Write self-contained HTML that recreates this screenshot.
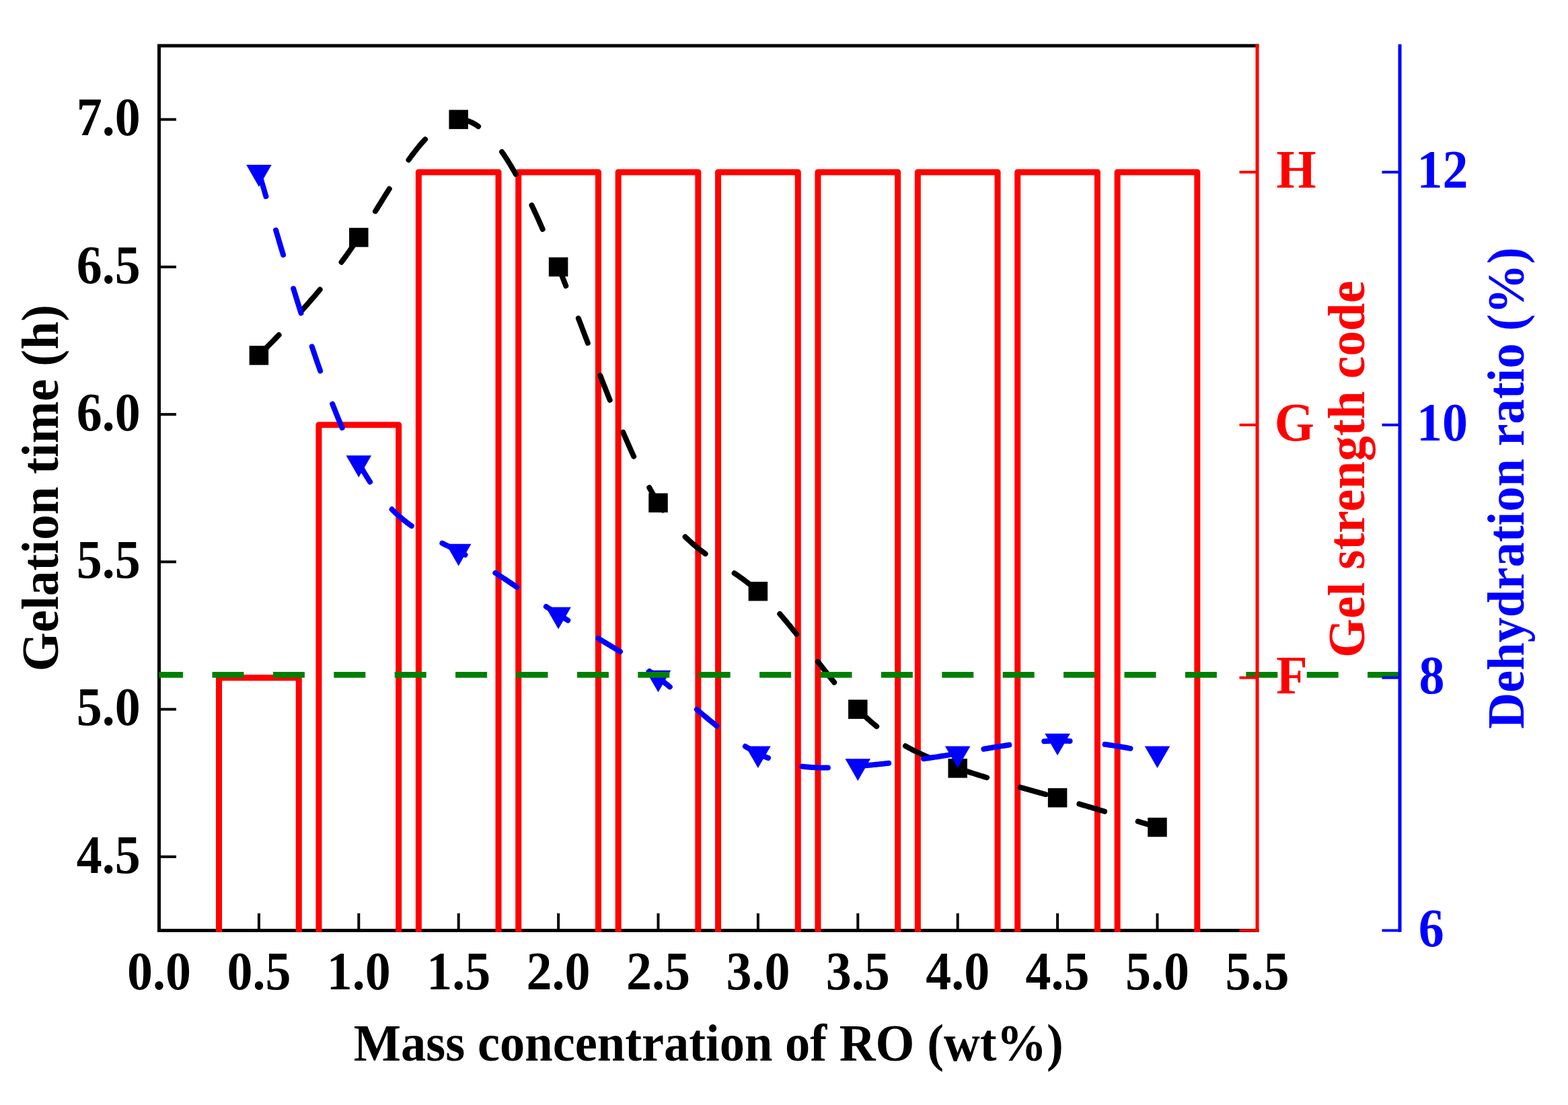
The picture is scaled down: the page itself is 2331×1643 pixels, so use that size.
<!DOCTYPE html>
<html><head><meta charset="utf-8"><style>
html,body{margin:0;padding:0;background:#fff;overflow:hidden;width:2331px;height:1643px;}
svg{display:block;}
text{font-family:"Liberation Serif","Times New Roman",serif;font-weight:bold;}
</style></head><body>
<svg width="2331" height="1643" viewBox="0 0 2331 1643">
<rect width="2331" height="1643" fill="#fff"/>

<g stroke="#000" stroke-width="5.0" fill="none" stroke-linecap="square">
<path d="M236.5,1383.5 V68.0 H1869.0"/>
<path d="M236.5,1383.5 H1869.0"/>
</g>
<g stroke="#000" stroke-width="4.0">
<line x1="236.5" y1="1273.88" x2="262.0" y2="1273.88"/>
<line x1="236.5" y1="1054.62" x2="262.0" y2="1054.62"/>
<line x1="236.5" y1="835.38" x2="262.0" y2="835.38"/>
<line x1="236.5" y1="616.12" x2="262.0" y2="616.12"/>
<line x1="236.5" y1="396.88" x2="262.0" y2="396.88"/>
<line x1="236.5" y1="177.62" x2="262.0" y2="177.62"/>
<line x1="384.90" y1="1383.5" x2="384.90" y2="1358.0"/>
<line x1="533.30" y1="1383.5" x2="533.30" y2="1358.0"/>
<line x1="681.70" y1="1383.5" x2="681.70" y2="1358.0"/>
<line x1="830.10" y1="1383.5" x2="830.10" y2="1358.0"/>
<line x1="978.50" y1="1383.5" x2="978.50" y2="1358.0"/>
<line x1="1126.90" y1="1383.5" x2="1126.90" y2="1358.0"/>
<line x1="1275.30" y1="1383.5" x2="1275.30" y2="1358.0"/>
<line x1="1423.70" y1="1383.5" x2="1423.70" y2="1358.0"/>
<line x1="1572.10" y1="1383.5" x2="1572.10" y2="1358.0"/>
<line x1="1720.50" y1="1383.5" x2="1720.50" y2="1358.0"/>
</g>
<g stroke="#ff0000" stroke-width="9" fill="none" stroke-linejoin="round">
<path d="M325.54,1385.8 V1007.64 H444.26 V1385.8"/>
<path d="M473.94,1385.8 V631.79 H592.66 V1385.8"/>
<path d="M622.34,1385.8 V255.93 H741.06 V1385.8"/>
<path d="M770.74,1385.8 V255.93 H889.46 V1385.8"/>
<path d="M919.14,1385.8 V255.93 H1037.86 V1385.8"/>
<path d="M1067.54,1385.8 V255.93 H1186.26 V1385.8"/>
<path d="M1215.94,1385.8 V255.93 H1334.66 V1385.8"/>
<path d="M1364.34,1385.8 V255.93 H1483.06 V1385.8"/>
<path d="M1512.74,1385.8 V255.93 H1631.46 V1385.8"/>
<path d="M1661.14,1385.8 V255.93 H1779.86 V1385.8"/>
</g>
<path d="M384.90,528.42 L386.39,526.92 L387.87,525.41 L389.36,523.89 L390.84,522.38 L392.33,520.87 L393.81,519.36 L395.30,517.85 L396.79,516.33 L398.27,514.82 L399.76,513.30 L401.24,511.78 L402.73,510.26 L404.21,508.74 L405.70,507.22 L407.18,505.69 L408.67,504.17 L410.16,502.64 L411.64,501.10 L413.13,499.57 L414.61,498.03 L416.10,496.49 L417.58,494.95 L419.07,493.40 L420.56,491.85 L422.04,490.29 L423.53,488.74 L425.01,487.17 L426.50,485.61 L427.98,484.04 L429.47,482.46 L430.96,480.89 L432.44,479.30 L433.93,477.71 L435.41,476.12 L436.90,474.52 L438.38,472.92 L439.87,471.31 L441.35,469.70 L442.84,468.08 L444.33,466.45 L445.81,464.82 L447.30,463.18 L448.78,461.54 L450.27,459.89 L451.75,458.23 L453.24,456.57 L454.73,454.90 L456.21,453.23 L457.70,451.54 L459.18,449.85 L460.67,448.15 L462.15,446.45 L463.64,444.73 L465.13,443.01 L466.61,441.28 L468.10,439.54 L469.58,437.80 L471.07,436.04 L472.55,434.28 L474.04,432.51 L475.52,430.73 L477.01,428.94 L478.50,427.14 L479.98,425.33 L481.47,423.51 L482.95,421.68 L484.44,419.85 L485.92,418.00 L487.41,416.14 L488.90,414.28 L490.38,412.40 L491.87,410.51 L493.35,408.61 L494.84,406.70 L496.32,404.78 L497.81,402.85 L499.30,400.91 L500.78,398.95 L502.27,396.99 L503.75,395.01 L505.24,393.02 L506.72,391.02 L508.21,389.00 L509.69,386.98 L511.18,384.94 L512.67,382.89 L514.15,380.83 L515.64,378.75 L517.12,376.66 L518.61,374.56 L520.09,372.44 L521.58,370.31 L523.07,368.17 L524.55,366.01 L526.04,363.84 L527.52,361.66 L529.01,359.46 L530.49,357.25 L531.98,355.02 L533.47,352.78 L534.95,350.52 L536.44,348.25 L537.92,345.96 L539.41,343.67 L540.89,341.36 L542.38,339.04 L543.86,336.71 L545.35,334.37 L546.84,332.02 L548.32,329.67 L549.81,327.30 L551.29,324.93 L552.78,322.56 L554.26,320.18 L555.75,317.79 L557.24,315.40 L558.72,313.01 L560.21,310.62 L561.69,308.22 L563.18,305.82 L564.66,303.43 L566.15,301.03 L567.64,298.64 L569.12,296.25 L570.61,293.86 L572.09,291.48 L573.58,289.10 L575.06,286.72 L576.55,284.36 L578.03,281.99 L579.52,279.64 L581.01,277.29 L582.49,274.96 L583.98,272.63 L585.46,270.31 L586.95,268.01 L588.43,265.72 L589.92,263.43 L591.41,261.17 L592.89,258.91 L594.38,256.68 L595.86,254.45 L597.35,252.25 L598.83,250.06 L600.32,247.89 L601.81,245.73 L603.29,243.60 L604.78,241.49 L606.26,239.39 L607.75,237.32 L609.23,235.27 L610.72,233.25 L612.20,231.25 L613.69,229.27 L615.18,227.32 L616.66,225.39 L618.15,223.49 L619.63,221.62 L621.12,219.78 L622.60,217.96 L624.09,216.18 L625.58,214.42 L627.06,212.70 L628.55,211.01 L630.03,209.35 L631.52,207.72 L633.00,206.13 L634.49,204.58 L635.97,203.06 L637.46,201.57 L638.95,200.12 L640.43,198.72 L641.92,197.34 L643.40,196.01 L644.89,194.72 L646.37,193.47 L647.86,192.26 L649.35,191.09 L650.83,189.97 L652.32,188.89 L653.80,187.86 L655.29,186.87 L656.77,185.92 L658.26,185.02 L659.75,184.17 L661.23,183.37 L662.72,182.62 L664.20,181.91 L665.69,181.26 L667.17,180.66 L668.66,180.11 L670.14,179.61 L671.63,179.17 L673.12,178.78 L674.60,178.44 L676.09,178.17 L677.57,177.94 L679.06,177.78 L680.54,177.67 L682.03,177.62 L683.52,177.63 L685.00,177.70 L686.49,177.82 L687.97,178.01 L689.46,178.25 L690.94,178.55 L692.43,178.90 L693.92,179.31 L695.40,179.78 L696.89,180.30 L698.37,180.87 L699.86,181.50 L701.34,182.19 L702.83,182.93 L704.31,183.72 L705.80,184.56 L707.29,185.45 L708.77,186.40 L710.26,187.40 L711.74,188.45 L713.23,189.54 L714.71,190.69 L716.20,191.89 L717.69,193.14 L719.17,194.43 L720.66,195.78 L722.14,197.17 L723.63,198.61 L725.11,200.09 L726.60,201.62 L728.09,203.20 L729.57,204.83 L731.06,206.49 L732.54,208.21 L734.03,209.96 L735.51,211.77 L737.00,213.61 L738.48,215.50 L739.97,217.43 L741.46,219.40 L742.94,221.41 L744.43,223.47 L745.91,225.56 L747.40,227.70 L748.88,229.87 L750.37,232.09 L751.86,234.34 L753.34,236.63 L754.83,238.96 L756.31,241.33 L757.80,243.74 L759.28,246.18 L760.77,248.66 L762.26,251.17 L763.74,253.72 L765.23,256.31 L766.71,258.92 L768.20,261.58 L769.68,264.27 L771.17,266.99 L772.65,269.74 L774.14,272.53 L775.63,275.34 L777.11,278.19 L778.60,281.07 L780.08,283.98 L781.57,286.93 L783.05,289.90 L784.54,292.90 L786.03,295.93 L787.51,298.99 L789.00,302.07 L790.48,305.19 L791.97,308.33 L793.45,311.49 L794.94,314.69 L796.43,317.91 L797.91,321.15 L799.40,324.42 L800.88,327.72 L802.37,331.04 L803.85,334.38 L805.34,337.75 L806.82,341.14 L808.31,344.55 L809.80,347.98 L811.28,351.44 L812.77,354.91 L814.25,358.41 L815.74,361.93 L817.22,365.46 L818.71,369.02 L820.20,372.59 L821.68,376.19 L823.17,379.80 L824.65,383.43 L826.14,387.07 L827.62,390.73 L829.11,394.41 L830.60,398.11 L832.08,401.82 L833.57,405.54 L835.05,409.28 L836.54,413.04 L838.02,416.80 L839.51,420.58 L840.99,424.37 L842.48,428.17 L843.97,431.98 L845.45,435.81 L846.94,439.64 L848.42,443.48 L849.91,447.33 L851.39,451.19 L852.88,455.05 L854.37,458.92 L855.85,462.80 L857.34,466.68 L858.82,470.57 L860.31,474.46 L861.79,478.36 L863.28,482.26 L864.77,486.16 L866.25,490.06 L867.74,493.97 L869.22,497.88 L870.71,501.78 L872.19,505.69 L873.68,509.59 L875.16,513.50 L876.65,517.40 L878.14,521.30 L879.62,525.20 L881.11,529.09 L882.59,532.98 L884.08,536.86 L885.56,540.74 L887.05,544.61 L888.54,548.48 L890.02,552.33 L891.51,556.18 L892.99,560.03 L894.48,563.86 L895.96,567.68 L897.45,571.49 L898.94,575.30 L900.42,579.09 L901.91,582.87 L903.39,586.64 L904.88,590.39 L906.36,594.13 L907.85,597.86 L909.33,601.57 L910.82,605.26 L912.31,608.94 L913.79,612.61 L915.28,616.25 L916.76,619.88 L918.25,623.50 L919.73,627.09 L921.22,630.66 L922.71,634.21 L924.19,637.75 L925.68,641.26 L927.16,644.75 L928.65,648.21 L930.13,651.66 L931.62,655.08 L933.11,658.48 L934.59,661.85 L936.08,665.20 L937.56,668.52 L939.05,671.81 L940.53,675.08 L942.02,678.32 L943.50,681.53 L944.99,684.72 L946.48,687.87 L947.96,691.00 L949.45,694.09 L950.93,697.16 L952.42,700.19 L953.90,703.19 L955.39,706.16 L956.88,709.09 L958.36,711.99 L959.85,714.86 L961.33,717.69 L962.82,720.49 L964.30,723.24 L965.79,725.97 L967.28,728.65 L968.76,731.30 L970.25,733.91 L971.73,736.48 L973.22,739.01 L974.70,741.50 L976.19,743.95 L977.67,746.36 L979.16,748.72 L980.65,751.05 L982.13,753.33 L983.62,755.57 L985.10,757.77 L986.59,759.93 L988.07,762.06 L989.56,764.14 L991.05,766.19 L992.53,768.20 L994.02,770.18 L995.50,772.12 L996.99,774.02 L998.47,775.89 L999.96,777.73 L1001.45,779.53 L1002.93,781.30 L1004.42,783.04 L1005.90,784.75 L1007.39,786.43 L1008.87,788.07 L1010.36,789.69 L1011.84,791.28 L1013.33,792.85 L1014.82,794.38 L1016.30,795.89 L1017.79,797.37 L1019.27,798.83 L1020.76,800.26 L1022.24,801.67 L1023.73,803.05 L1025.22,804.42 L1026.70,805.76 L1028.19,807.07 L1029.67,808.37 L1031.16,809.65 L1032.64,810.91 L1034.13,812.15 L1035.62,813.37 L1037.10,814.57 L1038.59,815.76 L1040.07,816.93 L1041.56,818.08 L1043.04,819.22 L1044.53,820.34 L1046.01,821.45 L1047.50,822.55 L1048.99,823.63 L1050.47,824.71 L1051.96,825.77 L1053.44,826.82 L1054.93,827.86 L1056.41,828.89 L1057.90,829.91 L1059.39,830.93 L1060.87,831.94 L1062.36,832.94 L1063.84,833.93 L1065.33,834.92 L1066.81,835.90 L1068.30,836.88 L1069.78,837.86 L1071.27,838.83 L1072.76,839.81 L1074.24,840.77 L1075.73,841.74 L1077.21,842.71 L1078.70,843.68 L1080.18,844.65 L1081.67,845.62 L1083.16,846.59 L1084.64,847.57 L1086.13,848.55 L1087.61,849.53 L1089.10,850.52 L1090.58,851.51 L1092.07,852.51 L1093.56,853.52 L1095.04,854.53 L1096.53,855.55 L1098.01,856.58 L1099.50,857.62 L1100.98,858.67 L1102.47,859.73 L1103.95,860.80 L1105.44,861.88 L1106.93,862.98 L1108.41,864.09 L1109.90,865.21 L1111.38,866.34 L1112.87,867.49 L1114.35,868.66 L1115.84,869.84 L1117.33,871.04 L1118.81,872.26 L1120.30,873.50 L1121.78,874.75 L1123.27,876.03 L1124.75,877.32 L1126.24,878.63 L1127.73,879.97 L1129.21,881.33 L1130.70,882.71 L1132.18,884.11 L1133.67,885.52 L1135.15,886.96 L1136.64,888.42 L1138.12,889.90 L1139.61,891.40 L1141.10,892.91 L1142.58,894.44 L1144.07,895.99 L1145.55,897.56 L1147.04,899.15 L1148.52,900.75 L1150.01,902.36 L1151.50,903.99 L1152.98,905.64 L1154.47,907.30 L1155.95,908.98 L1157.44,910.67 L1158.92,912.37 L1160.41,914.09 L1161.90,915.81 L1163.38,917.56 L1164.87,919.31 L1166.35,921.07 L1167.84,922.85 L1169.32,924.63 L1170.81,926.43 L1172.29,928.24 L1173.78,930.05 L1175.27,931.88 L1176.75,933.71 L1178.24,935.56 L1179.72,937.41 L1181.21,939.26 L1182.69,941.13 L1184.18,943.00 L1185.67,944.88 L1187.15,946.76 L1188.64,948.65 L1190.12,950.55 L1191.61,952.44 L1193.09,954.35 L1194.58,956.26 L1196.07,958.17 L1197.55,960.08 L1199.04,962.00 L1200.52,963.92 L1202.01,965.84 L1203.49,967.76 L1204.98,969.69 L1206.46,971.61 L1207.95,973.54 L1209.44,975.46 L1210.92,977.39 L1212.41,979.31 L1213.89,981.23 L1215.38,983.16 L1216.86,985.07 L1218.35,986.99 L1219.84,988.91 L1221.32,990.82 L1222.81,992.72 L1224.29,994.63 L1225.78,996.53 L1227.26,998.42 L1228.75,1000.31 L1230.24,1002.19 L1231.72,1004.07 L1233.21,1005.94 L1234.69,1007.80 L1236.18,1009.66 L1237.66,1011.51 L1239.15,1013.35 L1240.63,1015.18 L1242.12,1017.01 L1243.61,1018.82 L1245.09,1020.63 L1246.58,1022.43 L1248.06,1024.21 L1249.55,1025.98 L1251.03,1027.75 L1252.52,1029.50 L1254.01,1031.24 L1255.49,1032.97 L1256.98,1034.68 L1258.46,1036.38 L1259.95,1038.07 L1261.43,1039.75 L1262.92,1041.40 L1264.41,1043.05 L1265.89,1044.68 L1267.38,1046.29 L1268.86,1047.89 L1270.35,1049.47 L1271.83,1051.04 L1273.32,1052.59 L1274.80,1054.12 L1276.29,1055.63 L1277.78,1057.13 L1279.26,1058.60 L1280.75,1060.06 L1282.23,1061.51 L1283.72,1062.93 L1285.20,1064.34 L1286.69,1065.73 L1288.18,1067.10 L1289.66,1068.46 L1291.15,1069.80 L1292.63,1071.12 L1294.12,1072.43 L1295.60,1073.72 L1297.09,1075.00 L1298.58,1076.26 L1300.06,1077.50 L1301.55,1078.73 L1303.03,1079.95 L1304.52,1081.15 L1306.00,1082.33 L1307.49,1083.50 L1308.97,1084.66 L1310.46,1085.80 L1311.95,1086.92 L1313.43,1088.03 L1314.92,1089.13 L1316.40,1090.22 L1317.89,1091.29 L1319.37,1092.34 L1320.86,1093.39 L1322.35,1094.42 L1323.83,1095.43 L1325.32,1096.44 L1326.80,1097.43 L1328.29,1098.41 L1329.77,1099.38 L1331.26,1100.33 L1332.75,1101.27 L1334.23,1102.20 L1335.72,1103.12 L1337.20,1104.03 L1338.69,1104.92 L1340.17,1105.81 L1341.66,1106.68 L1343.14,1107.54 L1344.63,1108.40 L1346.12,1109.24 L1347.60,1110.07 L1349.09,1110.89 L1350.57,1111.70 L1352.06,1112.50 L1353.54,1113.29 L1355.03,1114.07 L1356.52,1114.84 L1358.00,1115.60 L1359.49,1116.35 L1360.97,1117.09 L1362.46,1117.83 L1363.94,1118.55 L1365.43,1119.27 L1366.92,1119.98 L1368.40,1120.68 L1369.89,1121.37 L1371.37,1122.06 L1372.86,1122.73 L1374.34,1123.40 L1375.83,1124.06 L1377.31,1124.71 L1378.80,1125.36 L1380.29,1126.00 L1381.77,1126.63 L1383.26,1127.26 L1384.74,1127.88 L1386.23,1128.49 L1387.71,1129.10 L1389.20,1129.70 L1390.69,1130.30 L1392.17,1130.88 L1393.66,1131.47 L1395.14,1132.05 L1396.63,1132.62 L1398.11,1133.19 L1399.60,1133.75 L1401.09,1134.31 L1402.57,1134.86 L1404.06,1135.41 L1405.54,1135.96 L1407.03,1136.50 L1408.51,1137.03 L1410.00,1137.57 L1411.48,1138.09 L1412.97,1138.62 L1414.46,1139.14 L1415.94,1139.66 L1417.43,1140.18 L1418.91,1140.69 L1420.40,1141.20 L1421.88,1141.71 L1423.37,1142.21 L1424.86,1142.72 L1426.34,1143.22 L1427.83,1143.72 L1429.31,1144.21 L1430.80,1144.71 L1432.28,1145.20 L1433.77,1145.69 L1435.26,1146.18 L1436.74,1146.66 L1438.23,1147.15 L1439.71,1147.63 L1441.20,1148.11 L1442.68,1148.59 L1444.17,1149.07 L1445.65,1149.54 L1447.14,1150.01 L1448.63,1150.48 L1450.11,1150.95 L1451.60,1151.42 L1453.08,1151.89 L1454.57,1152.35 L1456.05,1152.81 L1457.54,1153.28 L1459.03,1153.74 L1460.51,1154.19 L1462.00,1154.65 L1463.48,1155.10 L1464.97,1155.56 L1466.45,1156.01 L1467.94,1156.46 L1469.43,1156.91 L1470.91,1157.36 L1472.40,1157.80 L1473.88,1158.25 L1475.37,1158.69 L1476.85,1159.14 L1478.34,1159.58 L1479.82,1160.02 L1481.31,1160.46 L1482.80,1160.89 L1484.28,1161.33 L1485.77,1161.77 L1487.25,1162.20 L1488.74,1162.64 L1490.22,1163.07 L1491.71,1163.50 L1493.20,1163.93 L1494.68,1164.36 L1496.17,1164.79 L1497.65,1165.22 L1499.14,1165.64 L1500.62,1166.07 L1502.11,1166.50 L1503.59,1166.92 L1505.08,1167.34 L1506.57,1167.77 L1508.05,1168.19 L1509.54,1168.61 L1511.02,1169.03 L1512.51,1169.46 L1513.99,1169.88 L1515.48,1170.30 L1516.97,1170.71 L1518.45,1171.13 L1519.94,1171.55 L1521.42,1171.97 L1522.91,1172.39 L1524.39,1172.80 L1525.88,1173.22 L1527.37,1173.64 L1528.85,1174.05 L1530.34,1174.47 L1531.82,1174.89 L1533.31,1175.30 L1534.79,1175.72 L1536.28,1176.13 L1537.76,1176.55 L1539.25,1176.96 L1540.74,1177.38 L1542.22,1177.79 L1543.71,1178.21 L1545.19,1178.62 L1546.68,1179.04 L1548.16,1179.45 L1549.65,1179.87 L1551.14,1180.28 L1552.62,1180.70 L1554.11,1181.11 L1555.59,1181.53 L1557.08,1181.95 L1558.56,1182.36 L1560.05,1182.78 L1561.54,1183.20 L1563.02,1183.61 L1564.51,1184.03 L1565.99,1184.45 L1567.48,1184.87 L1568.96,1185.29 L1570.45,1185.71 L1571.93,1186.13 L1573.42,1186.55 L1574.91,1186.97 L1576.39,1187.39 L1577.88,1187.81 L1579.36,1188.24 L1580.85,1188.66 L1582.33,1189.08 L1583.82,1189.51 L1585.31,1189.93 L1586.79,1190.36 L1588.28,1190.79 L1589.76,1191.21 L1591.25,1191.64 L1592.73,1192.07 L1594.22,1192.49 L1595.71,1192.92 L1597.19,1193.35 L1598.68,1193.78 L1600.16,1194.21 L1601.65,1194.64 L1603.13,1195.07 L1604.62,1195.50 L1606.10,1195.93 L1607.59,1196.37 L1609.08,1196.80 L1610.56,1197.23 L1612.05,1197.66 L1613.53,1198.10 L1615.02,1198.53 L1616.50,1198.97 L1617.99,1199.40 L1619.48,1199.84 L1620.96,1200.27 L1622.45,1200.71 L1623.93,1201.14 L1625.42,1201.58 L1626.90,1202.02 L1628.39,1202.46 L1629.88,1202.89 L1631.36,1203.33 L1632.85,1203.77 L1634.33,1204.21 L1635.82,1204.65 L1637.30,1205.09 L1638.79,1205.53 L1640.27,1205.97 L1641.76,1206.41 L1643.25,1206.85 L1644.73,1207.29 L1646.22,1207.73 L1647.70,1208.17 L1649.19,1208.61 L1650.67,1209.05 L1652.16,1209.50 L1653.65,1209.94 L1655.13,1210.38 L1656.62,1210.82 L1658.10,1211.27 L1659.59,1211.71 L1661.07,1212.16 L1662.56,1212.60 L1664.05,1213.04 L1665.53,1213.49 L1667.02,1213.93 L1668.50,1214.38 L1669.99,1214.82 L1671.47,1215.27 L1672.96,1215.71 L1674.44,1216.16 L1675.93,1216.60 L1677.42,1217.05 L1678.90,1217.50 L1680.39,1217.94 L1681.87,1218.39 L1683.36,1218.83 L1684.84,1219.28 L1686.33,1219.73 L1687.82,1220.17 L1689.30,1220.62 L1690.79,1221.07 L1692.27,1221.52 L1693.76,1221.96 L1695.24,1222.41 L1696.73,1222.86 L1698.22,1223.30 L1699.70,1223.75 L1701.19,1224.20 L1702.67,1224.65 L1704.16,1225.10 L1705.64,1225.54 L1707.13,1225.99 L1708.61,1226.44 L1710.10,1226.89 L1711.59,1227.34 L1713.07,1227.78 L1714.56,1228.23 L1716.04,1228.68 L1717.53,1229.13 L1719.01,1229.58 L1720.50,1230.03" fill="none" stroke="#000" stroke-width="8" stroke-linecap="round" stroke-dasharray="39.2 51.8" stroke-dashoffset="-3.3"/>
<g fill="#000">
<rect x="370.65" y="514.17" width="28.5" height="28.5"/>
<rect x="519.05" y="338.78" width="28.5" height="28.5"/>
<rect x="667.45" y="163.38" width="28.5" height="28.5"/>
<rect x="815.85" y="382.62" width="28.5" height="28.5"/>
<rect x="964.25" y="733.42" width="28.5" height="28.5"/>
<rect x="1112.65" y="864.97" width="28.5" height="28.5"/>
<rect x="1261.05" y="1040.38" width="28.5" height="28.5"/>
<rect x="1409.45" y="1128.08" width="28.5" height="28.5"/>
<rect x="1557.85" y="1171.92" width="28.5" height="28.5"/>
<rect x="1706.25" y="1215.78" width="28.5" height="28.5"/>
</g>
<path d="M384.90,255.93 L386.39,261.04 L387.87,266.15 L389.36,271.25 L390.84,276.36 L392.33,281.46 L393.81,286.56 L395.30,291.66 L396.79,296.76 L398.27,301.85 L399.76,306.94 L401.24,312.02 L402.73,317.10 L404.21,322.17 L405.70,327.24 L407.18,332.30 L408.67,337.35 L410.16,342.39 L411.64,347.43 L413.13,352.46 L414.61,357.48 L416.10,362.49 L417.58,367.49 L419.07,372.48 L420.56,377.46 L422.04,382.43 L423.53,387.38 L425.01,392.33 L426.50,397.26 L427.98,402.18 L429.47,407.08 L430.96,411.97 L432.44,416.85 L433.93,421.71 L435.41,426.55 L436.90,431.38 L438.38,436.19 L439.87,440.99 L441.35,445.77 L442.84,450.53 L444.33,455.27 L445.81,459.99 L447.30,464.70 L448.78,469.38 L450.27,474.05 L451.75,478.69 L453.24,483.31 L454.73,487.91 L456.21,492.49 L457.70,497.05 L459.18,501.58 L460.67,506.09 L462.15,510.57 L463.64,515.03 L465.13,519.47 L466.61,523.88 L468.10,528.27 L469.58,532.63 L471.07,536.96 L472.55,541.26 L474.04,545.54 L475.52,549.79 L477.01,554.01 L478.50,558.20 L479.98,562.36 L481.47,566.49 L482.95,570.59 L484.44,574.66 L485.92,578.70 L487.41,582.70 L488.90,586.68 L490.38,590.62 L491.87,594.53 L493.35,598.40 L494.84,602.24 L496.32,606.04 L497.81,609.81 L499.30,613.54 L500.78,617.24 L502.27,620.90 L503.75,624.53 L505.24,628.11 L506.72,631.66 L508.21,635.17 L509.69,638.64 L511.18,642.07 L512.67,645.46 L514.15,648.81 L515.64,652.12 L517.12,655.39 L518.61,658.61 L520.09,661.80 L521.58,664.94 L523.07,668.04 L524.55,671.09 L526.04,674.10 L527.52,677.07 L529.01,679.99 L530.49,682.86 L531.98,685.69 L533.47,688.47 L534.95,691.21 L536.44,693.90 L537.92,696.54 L539.41,699.14 L540.89,701.69 L542.38,704.20 L543.86,706.66 L545.35,709.08 L546.84,711.46 L548.32,713.80 L549.81,716.10 L551.29,718.35 L552.78,720.57 L554.26,722.74 L555.75,724.88 L557.24,726.97 L558.72,729.03 L560.21,731.05 L561.69,733.04 L563.18,734.98 L564.66,736.89 L566.15,738.77 L567.64,740.61 L569.12,742.42 L570.61,744.19 L572.09,745.93 L573.58,747.63 L575.06,749.30 L576.55,750.95 L578.03,752.56 L579.52,754.14 L581.01,755.68 L582.49,757.20 L583.98,758.70 L585.46,760.16 L586.95,761.59 L588.43,763.00 L589.92,764.38 L591.41,765.73 L592.89,767.06 L594.38,768.36 L595.86,769.64 L597.35,770.89 L598.83,772.12 L600.32,773.33 L601.81,774.51 L603.29,775.68 L604.78,776.82 L606.26,777.94 L607.75,779.03 L609.23,780.11 L610.72,781.17 L612.20,782.21 L613.69,783.24 L615.18,784.24 L616.66,785.23 L618.15,786.20 L619.63,787.16 L621.12,788.10 L622.60,789.02 L624.09,789.93 L625.58,790.83 L627.06,791.71 L628.55,792.58 L630.03,793.44 L631.52,794.28 L633.00,795.12 L634.49,795.94 L635.97,796.75 L637.46,797.56 L638.95,798.35 L640.43,799.14 L641.92,799.92 L643.40,800.69 L644.89,801.45 L646.37,802.21 L647.86,802.96 L649.35,803.71 L650.83,804.45 L652.32,805.19 L653.80,805.92 L655.29,806.65 L656.77,807.38 L658.26,808.11 L659.75,808.83 L661.23,809.56 L662.72,810.28 L664.20,811.00 L665.69,811.73 L667.17,812.45 L668.66,813.18 L670.14,813.91 L671.63,814.64 L673.12,815.37 L674.60,816.11 L676.09,816.86 L677.57,817.60 L679.06,818.36 L680.54,819.12 L682.03,819.89 L683.52,820.66 L685.00,821.44 L686.49,822.23 L687.97,823.02 L689.46,823.82 L690.94,824.63 L692.43,825.44 L693.92,826.26 L695.40,827.09 L696.89,827.92 L698.37,828.75 L699.86,829.60 L701.34,830.45 L702.83,831.30 L704.31,832.16 L705.80,833.03 L707.29,833.90 L708.77,834.77 L710.26,835.65 L711.74,836.54 L713.23,837.43 L714.71,838.33 L716.20,839.23 L717.69,840.13 L719.17,841.04 L720.66,841.95 L722.14,842.87 L723.63,843.79 L725.11,844.72 L726.60,845.65 L728.09,846.58 L729.57,847.52 L731.06,848.46 L732.54,849.40 L734.03,850.35 L735.51,851.30 L737.00,852.25 L738.48,853.21 L739.97,854.17 L741.46,855.13 L742.94,856.10 L744.43,857.07 L745.91,858.04 L747.40,859.01 L748.88,859.98 L750.37,860.96 L751.86,861.94 L753.34,862.92 L754.83,863.90 L756.31,864.89 L757.80,865.87 L759.28,866.86 L760.77,867.85 L762.26,868.84 L763.74,869.83 L765.23,870.83 L766.71,871.82 L768.20,872.82 L769.68,873.81 L771.17,874.81 L772.65,875.81 L774.14,876.80 L775.63,877.80 L777.11,878.80 L778.60,879.80 L780.08,880.79 L781.57,881.79 L783.05,882.79 L784.54,883.79 L786.03,884.79 L787.51,885.78 L789.00,886.78 L790.48,887.77 L791.97,888.77 L793.45,889.76 L794.94,890.75 L796.43,891.75 L797.91,892.74 L799.40,893.72 L800.88,894.71 L802.37,895.70 L803.85,896.68 L805.34,897.66 L806.82,898.65 L808.31,899.62 L809.80,900.60 L811.28,901.57 L812.77,902.55 L814.25,903.52 L815.74,904.48 L817.22,905.45 L818.71,906.41 L820.20,907.37 L821.68,908.32 L823.17,909.28 L824.65,910.23 L826.14,911.17 L827.62,912.11 L829.11,913.05 L830.60,913.99 L832.08,914.92 L833.57,915.85 L835.05,916.78 L836.54,917.70 L838.02,918.62 L839.51,919.53 L840.99,920.45 L842.48,921.36 L843.97,922.26 L845.45,923.17 L846.94,924.07 L848.42,924.97 L849.91,925.87 L851.39,926.76 L852.88,927.66 L854.37,928.55 L855.85,929.44 L857.34,930.32 L858.82,931.21 L860.31,932.10 L861.79,932.98 L863.28,933.86 L864.77,934.74 L866.25,935.62 L867.74,936.50 L869.22,937.38 L870.71,938.26 L872.19,939.13 L873.68,940.01 L875.16,940.89 L876.65,941.76 L878.14,942.64 L879.62,943.52 L881.11,944.39 L882.59,945.27 L884.08,946.14 L885.56,947.02 L887.05,947.90 L888.54,948.78 L890.02,949.66 L891.51,950.54 L892.99,951.42 L894.48,952.30 L895.96,953.18 L897.45,954.07 L898.94,954.95 L900.42,955.84 L901.91,956.73 L903.39,957.62 L904.88,958.52 L906.36,959.41 L907.85,960.31 L909.33,961.21 L910.82,962.11 L912.31,963.02 L913.79,963.92 L915.28,964.83 L916.76,965.75 L918.25,966.66 L919.73,967.58 L921.22,968.50 L922.71,969.43 L924.19,970.36 L925.68,971.29 L927.16,972.23 L928.65,973.17 L930.13,974.11 L931.62,975.06 L933.11,976.01 L934.59,976.96 L936.08,977.92 L937.56,978.89 L939.05,979.86 L940.53,980.83 L942.02,981.81 L943.50,982.79 L944.99,983.78 L946.48,984.77 L947.96,985.77 L949.45,986.78 L950.93,987.79 L952.42,988.80 L953.90,989.82 L955.39,990.85 L956.88,991.88 L958.36,992.92 L959.85,993.96 L961.33,995.01 L962.82,996.07 L964.30,997.13 L965.79,998.20 L967.28,999.28 L968.76,1000.36 L970.25,1001.45 L971.73,1002.55 L973.22,1003.66 L974.70,1004.77 L976.19,1005.89 L977.67,1007.01 L979.16,1008.15 L980.65,1009.29 L982.13,1010.44 L983.62,1011.60 L985.10,1012.76 L986.59,1013.93 L988.07,1015.10 L989.56,1016.29 L991.05,1017.47 L992.53,1018.67 L994.02,1019.87 L995.50,1021.07 L996.99,1022.28 L998.47,1023.50 L999.96,1024.72 L1001.45,1025.94 L1002.93,1027.17 L1004.42,1028.40 L1005.90,1029.63 L1007.39,1030.87 L1008.87,1032.11 L1010.36,1033.35 L1011.84,1034.60 L1013.33,1035.85 L1014.82,1037.10 L1016.30,1038.35 L1017.79,1039.61 L1019.27,1040.87 L1020.76,1042.12 L1022.24,1043.38 L1023.73,1044.64 L1025.22,1045.90 L1026.70,1047.16 L1028.19,1048.42 L1029.67,1049.68 L1031.16,1050.94 L1032.64,1052.20 L1034.13,1053.46 L1035.62,1054.72 L1037.10,1055.97 L1038.59,1057.23 L1040.07,1058.48 L1041.56,1059.73 L1043.04,1060.98 L1044.53,1062.22 L1046.01,1063.47 L1047.50,1064.71 L1048.99,1065.94 L1050.47,1067.18 L1051.96,1068.41 L1053.44,1069.63 L1054.93,1070.86 L1056.41,1072.07 L1057.90,1073.29 L1059.39,1074.49 L1060.87,1075.70 L1062.36,1076.89 L1063.84,1078.09 L1065.33,1079.27 L1066.81,1080.45 L1068.30,1081.63 L1069.78,1082.80 L1071.27,1083.96 L1072.76,1085.11 L1074.24,1086.26 L1075.73,1087.40 L1077.21,1088.53 L1078.70,1089.65 L1080.18,1090.77 L1081.67,1091.88 L1083.16,1092.98 L1084.64,1094.07 L1086.13,1095.15 L1087.61,1096.22 L1089.10,1097.28 L1090.58,1098.33 L1092.07,1099.38 L1093.56,1100.41 L1095.04,1101.43 L1096.53,1102.44 L1098.01,1103.44 L1099.50,1104.43 L1100.98,1105.41 L1102.47,1106.38 L1103.95,1107.33 L1105.44,1108.27 L1106.93,1109.20 L1108.41,1110.12 L1109.90,1111.03 L1111.38,1111.92 L1112.87,1112.80 L1114.35,1113.66 L1115.84,1114.51 L1117.33,1115.35 L1118.81,1116.18 L1120.30,1116.98 L1121.78,1117.78 L1123.27,1118.56 L1124.75,1119.32 L1126.24,1120.07 L1127.73,1120.81 L1129.21,1121.52 L1130.70,1122.23 L1132.18,1122.91 L1133.67,1123.58 L1135.15,1124.24 L1136.64,1124.88 L1138.12,1125.51 L1139.61,1126.12 L1141.10,1126.72 L1142.58,1127.31 L1144.07,1127.88 L1145.55,1128.43 L1147.04,1128.97 L1148.52,1129.50 L1150.01,1130.02 L1151.50,1130.52 L1152.98,1131.00 L1154.47,1131.48 L1155.95,1131.94 L1157.44,1132.39 L1158.92,1132.82 L1160.41,1133.25 L1161.90,1133.66 L1163.38,1134.06 L1164.87,1134.44 L1166.35,1134.82 L1167.84,1135.18 L1169.32,1135.53 L1170.81,1135.87 L1172.29,1136.20 L1173.78,1136.51 L1175.27,1136.82 L1176.75,1137.11 L1178.24,1137.39 L1179.72,1137.67 L1181.21,1137.93 L1182.69,1138.18 L1184.18,1138.42 L1185.67,1138.65 L1187.15,1138.87 L1188.64,1139.08 L1190.12,1139.28 L1191.61,1139.47 L1193.09,1139.66 L1194.58,1139.83 L1196.07,1139.99 L1197.55,1140.15 L1199.04,1140.29 L1200.52,1140.43 L1202.01,1140.56 L1203.49,1140.68 L1204.98,1140.79 L1206.46,1140.89 L1207.95,1140.98 L1209.44,1141.07 L1210.92,1141.15 L1212.41,1141.22 L1213.89,1141.29 L1215.38,1141.34 L1216.86,1141.39 L1218.35,1141.44 L1219.84,1141.47 L1221.32,1141.50 L1222.81,1141.52 L1224.29,1141.54 L1225.78,1141.55 L1227.26,1141.55 L1228.75,1141.55 L1230.24,1141.54 L1231.72,1141.52 L1233.21,1141.50 L1234.69,1141.48 L1236.18,1141.45 L1237.66,1141.41 L1239.15,1141.37 L1240.63,1141.32 L1242.12,1141.27 L1243.61,1141.22 L1245.09,1141.16 L1246.58,1141.09 L1248.06,1141.02 L1249.55,1140.95 L1251.03,1140.88 L1252.52,1140.79 L1254.01,1140.71 L1255.49,1140.62 L1256.98,1140.53 L1258.46,1140.44 L1259.95,1140.34 L1261.43,1140.24 L1262.92,1140.14 L1264.41,1140.03 L1265.89,1139.93 L1267.38,1139.81 L1268.86,1139.70 L1270.35,1139.59 L1271.83,1139.47 L1273.32,1139.35 L1274.80,1139.23 L1276.29,1139.11 L1277.78,1138.99 L1279.26,1138.86 L1280.75,1138.74 L1282.23,1138.61 L1283.72,1138.48 L1285.20,1138.35 L1286.69,1138.22 L1288.18,1138.09 L1289.66,1137.95 L1291.15,1137.82 L1292.63,1137.68 L1294.12,1137.54 L1295.60,1137.40 L1297.09,1137.26 L1298.58,1137.12 L1300.06,1136.97 L1301.55,1136.83 L1303.03,1136.68 L1304.52,1136.53 L1306.00,1136.38 L1307.49,1136.23 L1308.97,1136.08 L1310.46,1135.93 L1311.95,1135.77 L1313.43,1135.61 L1314.92,1135.46 L1316.40,1135.30 L1317.89,1135.14 L1319.37,1134.97 L1320.86,1134.81 L1322.35,1134.65 L1323.83,1134.48 L1325.32,1134.31 L1326.80,1134.14 L1328.29,1133.97 L1329.77,1133.80 L1331.26,1133.63 L1332.75,1133.45 L1334.23,1133.28 L1335.72,1133.10 L1337.20,1132.92 L1338.69,1132.74 L1340.17,1132.56 L1341.66,1132.38 L1343.14,1132.20 L1344.63,1132.01 L1346.12,1131.83 L1347.60,1131.64 L1349.09,1131.45 L1350.57,1131.26 L1352.06,1131.07 L1353.54,1130.88 L1355.03,1130.69 L1356.52,1130.49 L1358.00,1130.29 L1359.49,1130.10 L1360.97,1129.90 L1362.46,1129.70 L1363.94,1129.50 L1365.43,1129.29 L1366.92,1129.09 L1368.40,1128.89 L1369.89,1128.68 L1371.37,1128.47 L1372.86,1128.26 L1374.34,1128.05 L1375.83,1127.84 L1377.31,1127.63 L1378.80,1127.42 L1380.29,1127.20 L1381.77,1126.99 L1383.26,1126.77 L1384.74,1126.55 L1386.23,1126.33 L1387.71,1126.11 L1389.20,1125.89 L1390.69,1125.66 L1392.17,1125.44 L1393.66,1125.21 L1395.14,1124.99 L1396.63,1124.76 L1398.11,1124.53 L1399.60,1124.30 L1401.09,1124.07 L1402.57,1123.83 L1404.06,1123.60 L1405.54,1123.37 L1407.03,1123.13 L1408.51,1122.89 L1410.00,1122.65 L1411.48,1122.41 L1412.97,1122.17 L1414.46,1121.93 L1415.94,1121.69 L1417.43,1121.44 L1418.91,1121.20 L1420.40,1120.95 L1421.88,1120.70 L1423.37,1120.46 L1424.86,1120.21 L1426.34,1119.95 L1427.83,1119.70 L1429.31,1119.45 L1430.80,1119.20 L1432.28,1118.94 L1433.77,1118.69 L1435.26,1118.43 L1436.74,1118.17 L1438.23,1117.92 L1439.71,1117.66 L1441.20,1117.40 L1442.68,1117.14 L1444.17,1116.89 L1445.65,1116.63 L1447.14,1116.37 L1448.63,1116.11 L1450.11,1115.85 L1451.60,1115.59 L1453.08,1115.34 L1454.57,1115.08 L1456.05,1114.82 L1457.54,1114.56 L1459.03,1114.31 L1460.51,1114.05 L1462.00,1113.80 L1463.48,1113.54 L1464.97,1113.29 L1466.45,1113.03 L1467.94,1112.78 L1469.43,1112.53 L1470.91,1112.28 L1472.40,1112.03 L1473.88,1111.78 L1475.37,1111.54 L1476.85,1111.29 L1478.34,1111.05 L1479.82,1110.81 L1481.31,1110.57 L1482.80,1110.33 L1484.28,1110.09 L1485.77,1109.85 L1487.25,1109.62 L1488.74,1109.39 L1490.22,1109.16 L1491.71,1108.93 L1493.20,1108.70 L1494.68,1108.48 L1496.17,1108.26 L1497.65,1108.04 L1499.14,1107.82 L1500.62,1107.61 L1502.11,1107.40 L1503.59,1107.19 L1505.08,1106.98 L1506.57,1106.78 L1508.05,1106.58 L1509.54,1106.38 L1511.02,1106.18 L1512.51,1105.99 L1513.99,1105.80 L1515.48,1105.62 L1516.97,1105.44 L1518.45,1105.26 L1519.94,1105.08 L1521.42,1104.91 L1522.91,1104.74 L1524.39,1104.57 L1525.88,1104.41 L1527.37,1104.26 L1528.85,1104.10 L1530.34,1103.95 L1531.82,1103.80 L1533.31,1103.66 L1534.79,1103.52 L1536.28,1103.39 L1537.76,1103.26 L1539.25,1103.14 L1540.74,1103.01 L1542.22,1102.90 L1543.71,1102.79 L1545.19,1102.68 L1546.68,1102.58 L1548.16,1102.48 L1549.65,1102.38 L1551.14,1102.30 L1552.62,1102.21 L1554.11,1102.13 L1555.59,1102.06 L1557.08,1101.99 L1558.56,1101.93 L1560.05,1101.87 L1561.54,1101.82 L1563.02,1101.77 L1564.51,1101.73 L1565.99,1101.69 L1567.48,1101.66 L1568.96,1101.64 L1570.45,1101.62 L1571.93,1101.61 L1573.42,1101.60 L1574.91,1101.60 L1576.39,1101.60 L1577.88,1101.62 L1579.36,1101.63 L1580.85,1101.65 L1582.33,1101.68 L1583.82,1101.71 L1585.31,1101.75 L1586.79,1101.80 L1588.28,1101.84 L1589.76,1101.90 L1591.25,1101.96 L1592.73,1102.02 L1594.22,1102.09 L1595.71,1102.17 L1597.19,1102.25 L1598.68,1102.33 L1600.16,1102.42 L1601.65,1102.52 L1603.13,1102.62 L1604.62,1102.72 L1606.10,1102.83 L1607.59,1102.94 L1609.08,1103.06 L1610.56,1103.18 L1612.05,1103.31 L1613.53,1103.44 L1615.02,1103.57 L1616.50,1103.71 L1617.99,1103.86 L1619.48,1104.00 L1620.96,1104.16 L1622.45,1104.31 L1623.93,1104.47 L1625.42,1104.63 L1626.90,1104.80 L1628.39,1104.97 L1629.88,1105.15 L1631.36,1105.33 L1632.85,1105.51 L1634.33,1105.69 L1635.82,1105.88 L1637.30,1106.07 L1638.79,1106.27 L1640.27,1106.47 L1641.76,1106.67 L1643.25,1106.87 L1644.73,1107.08 L1646.22,1107.29 L1647.70,1107.51 L1649.19,1107.72 L1650.67,1107.94 L1652.16,1108.17 L1653.65,1108.39 L1655.13,1108.62 L1656.62,1108.85 L1658.10,1109.08 L1659.59,1109.32 L1661.07,1109.56 L1662.56,1109.80 L1664.05,1110.04 L1665.53,1110.29 L1667.02,1110.53 L1668.50,1110.78 L1669.99,1111.04 L1671.47,1111.29 L1672.96,1111.54 L1674.44,1111.80 L1675.93,1112.06 L1677.42,1112.32 L1678.90,1112.58 L1680.39,1112.85 L1681.87,1113.12 L1683.36,1113.38 L1684.84,1113.65 L1686.33,1113.92 L1687.82,1114.19 L1689.30,1114.47 L1690.79,1114.74 L1692.27,1115.02 L1693.76,1115.29 L1695.24,1115.57 L1696.73,1115.85 L1698.22,1116.13 L1699.70,1116.41 L1701.19,1116.69 L1702.67,1116.97 L1704.16,1117.26 L1705.64,1117.54 L1707.13,1117.83 L1708.61,1118.11 L1710.10,1118.40 L1711.59,1118.68 L1713.07,1118.97 L1714.56,1119.25 L1716.04,1119.54 L1717.53,1119.83 L1719.01,1120.11 L1720.50,1120.40" fill="none" stroke="#0000ff" stroke-width="8" stroke-linecap="round" stroke-dasharray="38.3 52.3" stroke-dashoffset="0.7"/>
<g fill="#0000ff">
<path d="M366.10,245.03 H403.70 L384.90,277.63Z"/>
<path d="M514.50,677.26 H552.10 L533.30,709.86Z"/>
<path d="M662.90,808.81 H700.50 L681.70,841.41Z"/>
<path d="M811.30,902.78 H848.90 L830.10,935.38Z"/>
<path d="M959.70,996.74 H997.30 L978.50,1029.34Z"/>
<path d="M1108.10,1109.50 H1145.70 L1126.90,1142.10Z"/>
<path d="M1256.50,1128.29 H1294.10 L1275.30,1160.89Z"/>
<path d="M1404.90,1109.50 H1442.50 L1423.70,1142.10Z"/>
<path d="M1553.30,1090.71 H1590.90 L1572.10,1123.31Z"/>
<path d="M1701.70,1109.50 H1739.30 L1720.50,1142.10Z"/>
</g>
<line x1="236.5" y1="1003.4" x2="2081.0" y2="1003.4" stroke="#008000" stroke-width="8.6" stroke-dasharray="47 43.4" stroke-dashoffset="11.4"/>
<g stroke="#ff0000" fill="none">
<line x1="1869.0" y1="65.7" x2="1869.0" y2="1385.8" stroke-width="5.0"/>
<line x1="1842.5" y1="1383.50" x2="1869.0" y2="1383.50" stroke-width="4.0"/>
<line x1="1842.5" y1="1007.64" x2="1869.0" y2="1007.64" stroke-width="4.0"/>
<line x1="1842.5" y1="631.79" x2="1869.0" y2="631.79" stroke-width="4.0"/>
<line x1="1842.5" y1="255.93" x2="1869.0" y2="255.93" stroke-width="4.0"/>
</g>
<g stroke="#0000ff" fill="none">
<line x1="2081.0" y1="65.7" x2="2081.0" y2="1385.8" stroke-width="5.0"/>
<line x1="2054.5" y1="1383.50" x2="2081.0" y2="1383.50" stroke-width="4.0"/>
<line x1="2054.5" y1="1007.64" x2="2081.0" y2="1007.64" stroke-width="4.0"/>
<line x1="2054.5" y1="631.79" x2="2081.0" y2="631.79" stroke-width="4.0"/>
<line x1="2054.5" y1="255.93" x2="2081.0" y2="255.93" stroke-width="4.0"/>
</g>
<g font-size="76" fill="#000">
<text transform="translate(208.7,1297.5) scale(1,1.045)" text-anchor="end">4.5</text>
<text transform="translate(208.7,1078.2) scale(1,1.045)" text-anchor="end">5.0</text>
<text transform="translate(208.7,859.0) scale(1,1.045)" text-anchor="end">5.5</text>
<text transform="translate(208.7,639.7) scale(1,1.045)" text-anchor="end">6.0</text>
<text transform="translate(208.7,420.5) scale(1,1.045)" text-anchor="end">6.5</text>
<text transform="translate(208.7,201.2) scale(1,1.045)" text-anchor="end">7.0</text>
<text transform="translate(236.5,1471) scale(1,1.045)" text-anchor="middle">0.0</text>
<text transform="translate(384.9,1471) scale(1,1.045)" text-anchor="middle">0.5</text>
<text transform="translate(533.3,1471) scale(1,1.045)" text-anchor="middle">1.0</text>
<text transform="translate(681.7,1471) scale(1,1.045)" text-anchor="middle">1.5</text>
<text transform="translate(830.1,1471) scale(1,1.045)" text-anchor="middle">2.0</text>
<text transform="translate(978.5,1471) scale(1,1.045)" text-anchor="middle">2.5</text>
<text transform="translate(1126.9,1471) scale(1,1.045)" text-anchor="middle">3.0</text>
<text transform="translate(1275.3,1471) scale(1,1.045)" text-anchor="middle">3.5</text>
<text transform="translate(1423.7,1471) scale(1,1.045)" text-anchor="middle">4.0</text>
<text transform="translate(1572.1,1471) scale(1,1.045)" text-anchor="middle">4.5</text>
<text transform="translate(1720.5,1471) scale(1,1.045)" text-anchor="middle">5.0</text>
<text transform="translate(1868.9,1471) scale(1,1.045)" text-anchor="middle">5.5</text>
</g>
<g font-size="76" fill="#ff0000">
<text transform="translate(1897.6,279.3) scale(1,1.045)">H</text>
<text transform="translate(1894.8,655.2) scale(1,1.045)">G</text>
<text transform="translate(1897.2,1031.0) scale(1,1.045)">F</text>
</g>
<g font-size="76" fill="#0000ff">
<text transform="translate(2106.6,278.9) scale(1,1.045)">12</text>
<text transform="translate(2106.0,654.8) scale(1,1.045)">10</text>
<text transform="translate(2109.6,1030.6) scale(1,1.045)">8</text>
<text transform="translate(2108.8,1406.5) scale(1,1.045)">6</text>
</g>
<text transform="translate(1053.3,1576.5) scale(1,1.045)" font-size="74.5" text-anchor="middle" fill="#000">Mass concentration of RO (wt%)</text>
<text transform="translate(86.4,725.8) rotate(-90) scale(1,1.045)" font-size="75" text-anchor="middle" fill="#000">Gelation time (h)</text>
<text transform="translate(2028,697.6) rotate(-90) scale(1,1.045)" font-size="75" text-anchor="middle" fill="#ff0000">Gel strength code</text>
<text transform="translate(2264.5,725.7) rotate(-90) scale(1,1.045)" font-size="74.5" text-anchor="middle" fill="#0000ff">Dehydration ratio (%)</text>
</svg></body></html>
